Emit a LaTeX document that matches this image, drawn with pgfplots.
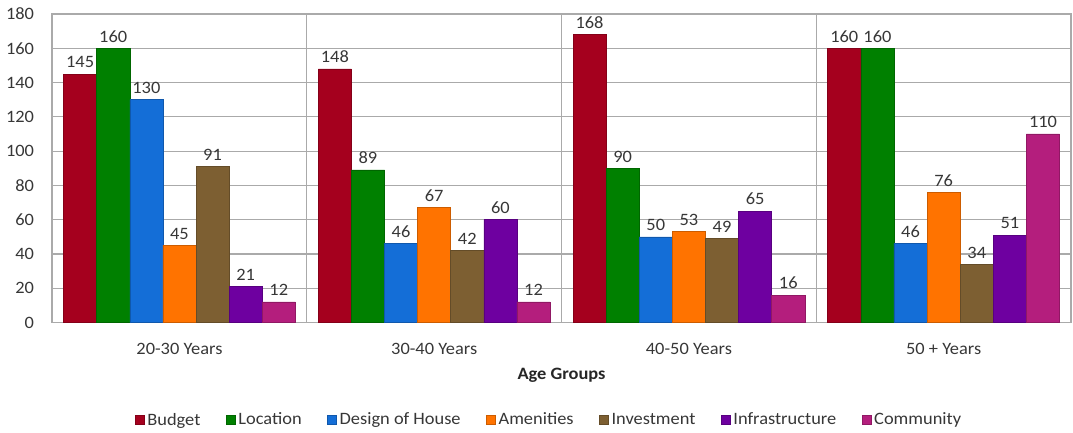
\documentclass[border=0pt]{standalone}
\usepackage{pgfplots}
\pgfplotsset{compat=1.18}
\usepackage{fontspec}
\setmainfont{Carlito}[FakeStretch=1.06]
\definecolor{cBud}{RGB}{165,0,30}
\definecolor{cLoc}{RGB}{0,128,0}
\definecolor{cDes}{RGB}{20,110,215}
\definecolor{cAme}{RGB}{255,115,0}
\definecolor{cInv}{RGB}{125,95,50}
\definecolor{cInf}{RGB}{110,0,160}
\definecolor{cCom}{RGB}{180,30,125}
\definecolor{gridc}{RGB}{170,170,170}
\definecolor{txt}{RGB}{55,55,55}
\begin{document}
\begin{tikzpicture}
\begin{axis}[
  scale only axis,
  width=763pt, height=231pt,
  ybar=0pt, bar width=0.13,
  xmin=-0.5, xmax=3.5,
  ymin=0, ymax=180,
  ytick={0,20,...,180},
  xtick={0,1,2,3},
  xticklabels={20-30 Years,30-40 Years,40-50 Years,50 + Years},
  minor xtick={0.5,1.5,2.5},
  minor x grid style={gridc, line width=0.9pt},
  xminorgrids=true,
  ymajorgrids=true,
  major grid style={gridc, line width=0.9pt},
  axis line style={gridc, line width=0.9pt},
  tick style={draw=none},
  minor tick length=0pt,
  major tick length=0pt,
  /pgf/number format/assume math mode=true,
  ticklabel style={font=\fontsize{13}{15}\selectfont, text=txt},
  yticklabel style={xshift=-10pt},
  xticklabel style={yshift=-12pt},
  xlabel={\textbf{Age Groups}},
  xlabel style={font=\fontsize{13}{15}\selectfont, text=black!85, yshift=-3pt},
  nodes near coords,
  every node near coord/.append style={font=\fontsize{13}{15}\selectfont, text=txt, yshift=1pt},
  legend style={at={(0.488,-0.316)}, anchor=center, draw=none,
    legend columns=7, font=\fontsize{13}{15}\selectfont, text=txt,
    /tikz/every even column/.append style={column sep=17pt}},
  legend image code/.code={\fill[#1] (0pt,-3.5pt) rectangle (7pt,3.5pt);},
]
\addplot[fill=cBud, draw=cBud!80!black] coordinates {(0,145) (1,148) (2,168) (3,160)};
\addplot[fill=cLoc, draw=cLoc!80!black] coordinates {(0,160) (1,89) (2,90) (3,160)};
\addplot[fill=cDes, draw=cDes!80!black] coordinates {(0,130) (1,46) (2,50) (3,46)};
\addplot[fill=cAme, draw=cAme!80!black] coordinates {(0,45) (1,67) (2,53) (3,76)};
\addplot[fill=cInv, draw=cInv!80!black] coordinates {(0,91) (1,42) (2,49) (3,34)};
\addplot[fill=cInf, draw=cInf!80!black] coordinates {(0,21) (1,60) (2,65) (3,51)};
\addplot[fill=cCom, draw=cCom!80!black] coordinates {(0,12) (1,12) (2,16) (3,110)};
\legend{Budget,Location,Design of House,Amenities,Investment,Infrastructure,Community}
\end{axis}
\path ([xshift=-39pt, yshift=10.5pt]current axis.north west) ([xshift=1.5pt, yshift=-82pt]current axis.south east);
\end{tikzpicture}
\end{document}
